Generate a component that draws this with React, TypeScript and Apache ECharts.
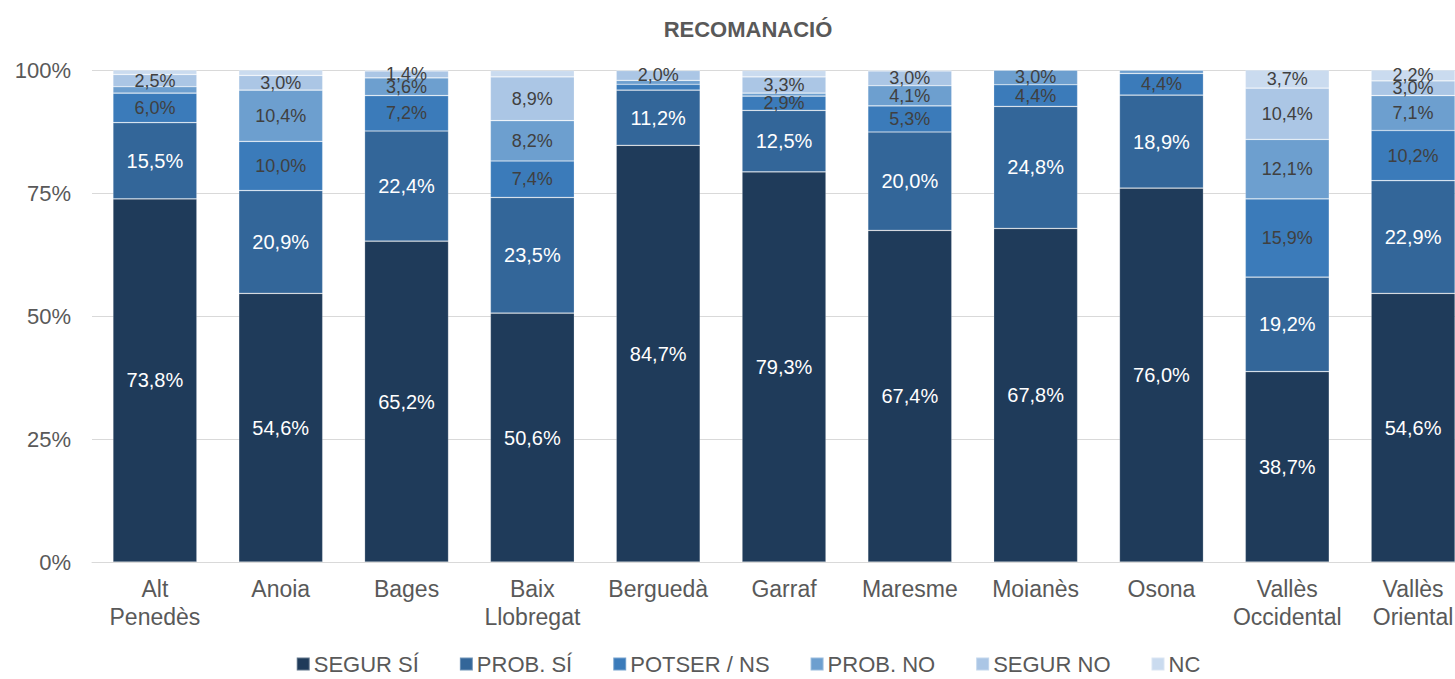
import React, { useEffect, useRef } from "react";
import * as echarts from "echarts";

const categories = [
  "Alt\nPenedès", "Anoia", "Bages", "Baix\nLlobregat", "Berguedà", "Garraf",
  "Maresme", "Moianès", "Osona", "Vallès\nOccidental", "Vallès\nOriental",
];
const seriesNames = ["SEGUR SÍ", "PROB. SÍ", "POTSER / NS", "PROB. NO", "SEGUR NO", "NC"];
const colors = ["#1F3B5A", "#336699", "#3B7BBA", "#6D9FCF", "#ABC6E5", "#CADBEF"];
const labelColors = ["#FFFFFF", "#FFFFFF", "#404040", "#404040", "#404040", "#404040"];

const segurSi = [73.8, 54.6, 65.2, 50.6, 84.7, 79.3, 67.4, 67.8, 76.0, 38.7, 54.6];
const probSi = [15.5, 20.9, 22.4, 23.5, 11.2, 12.5, 20.0, 24.8, 18.9, 19.2, 22.9];
const potser = [6.0, 10.0, 7.2, 7.4, 1.2, 2.9, 5.3, 4.4, 4.4, 15.9, 10.2];
const probNo = [1.3, 10.4, 3.6, 8.2, 0.8, 0.6, 4.1, 3.0, 0.7, 12.1, 7.1];
const segurNo = [2.5, 3.0, 1.4, 8.9, 2.0, 3.3, 3.0, 0.0, 0.0, 10.4, 3.0];
const nc = [0.9, 1.1, 0.2, 1.3, 0.1, 1.3, 0.2, 0.0, 0.0, 3.7, 2.2];

const yTicks = [0, 25, 50, 75, 100];
const labelThreshold = 1.4;
const FONT = "Liberation Sans, Arial, sans-serif";

export default function App() {
  const ref = useRef<HTMLDivElement>(null);
  useEffect(() => {
    if (!ref.current) return;
    const chart = echarts.init(ref.current, null, { renderer: "svg" });
    const all = [segurSi, probSi, potser, probNo, segurNo, nc];
    chart.setOption({
      animation: false,
      title: {
        text: "RECOMANACIÓ",
        left: "center",
        top: 13,
        textStyle: { fontFamily: FONT, fontSize: 22, fontWeight: "bold", color: "#595959" },
      },
      legend: {
        top: 652,
        left: "center",
        padding: 0,
        itemWidth: 13,
        itemHeight: 13,
        itemGap: 40,
        icon: "rect",
        textStyle: { fontFamily: FONT, fontSize: 22, lineHeight: 24, color: "#595959", padding: [0, 0, 0, -1] },
        data: seriesNames,
      },
      grid: { left: 92, right: 20, top: 70, bottom: 117 },
      xAxis: {
        type: "category",
        data: categories,
        axisLine: { lineStyle: { color: "#D9D9D9", width: 1 } },
        axisTick: { show: false },
        axisLabel: {
          fontFamily: FONT,
          fontSize: 23,
          color: "#595959",
          margin: 13,
          lineHeight: 28,
          interval: 0,
        },
      },
      yAxis: {
        type: "value",
        min: yTicks[0],
        max: yTicks[yTicks.length - 1],
        interval: 25,
        axisLine: { show: false },
        axisTick: { show: false },
        splitLine: { lineStyle: { color: "#D9D9D9", width: 1 } },
        axisLabel: {
          formatter: "{value}%",
          fontFamily: FONT,
          fontSize: 22,
          color: "#595959",
          margin: 21,
        },
      },
      series: seriesNames.map((name, i) => ({
        name,
        type: "bar",
        stack: "total",
        barWidth: 84,
        data: all[i],
        itemStyle: { color: colors[i], borderColor: "rgba(255,255,255,0.3)", borderWidth: 0.7 },
        label: {
          show: true,
          position: "inside",
          fontFamily: FONT,
          fontSize: i < 2 ? 20 : 18,
          color: labelColors[i],
          formatter: (p: any) =>
            p.value >= labelThreshold ? p.value.toFixed(1).replace(".", ",") + "%" : "",
        },
      })),
    });
    return () => chart.dispose();
  }, []);
  return (
    <div style={{ position: "fixed", left: 0, top: 0, width: 1455, height: 679, overflow: "hidden", background: "#fff" }}>
      <div ref={ref} style={{ width: 1496, height: 679 }} />
    </div>
  );
}
